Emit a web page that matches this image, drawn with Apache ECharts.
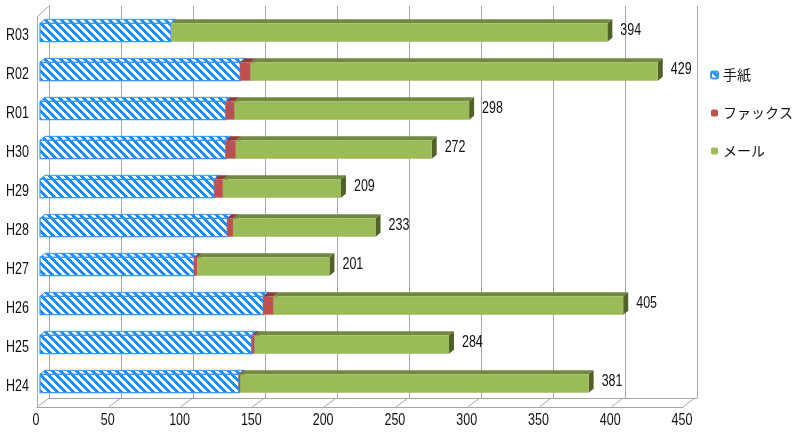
<!DOCTYPE html>
<html><head><meta charset="utf-8">
<script src="https://cdn.jsdelivr.net/npm/echarts@6/dist/echarts.min.js"></script>
<style>html,body{margin:0;padding:0;background:#fff}#c{width:802px;height:436px}</style>
</head><body><div id="c"></div>
<script>
const categories = ['H24','H25','H26','H27','H28','H29','H30','R01','R02','R03'];
const letter = [138,147,155,107,130,121,129,129,139,91];
const fax    = [1,2,7,2,4,6,7,6,7,0];
const mail   = [242,135,243,92,99,82,136,163,283,303];
const totals = [381,284,405,201,233,209,272,298,429,394];
const xTicks = [0,50,100,150,200,250,300,350,400,450];
const seriesNames = ['手紙','ファックス','メール'];

const NUM_FONT = "'Liberation Sans','Arial',sans-serif";
const JP_FONT = "'Noto Sans CJK JP','Noto Sans',sans-serif";
const SQUEEZE = 0.78;
const TXT = '#111';

function makeHatch(size, band){
  const c = document.createElement('canvas');
  c.width = size; c.height = size;
  const ctx = c.getContext('2d');
  const img = ctx.createImageData(size,size);
  for(let y=0;y<size;y++)for(let x=0;x<size;x++){
    const k=((x-y)%size+size)%size;
    const i=(y*size+x)*4;
    if(k<band){img.data[i]=26;img.data[i+1]=140;img.data[i+2]=255;img.data[i+3]=255;}
    else{img.data[i]=255;img.data[i+1]=255;img.data[i+2]=255;img.data[i+3]=255;}
  }
  ctx.putImageData(img,0,0);
  return c;
}
const hatch = {image: makeHatch(8,4), repeat: 'repeat'};

const DX = 5, DY = 4;
const styles = [
  {front: hatch, top: hatch, side: hatch, stroke: '#3399ff'},
  {front: '#C0504D', top: '#8E3B39', side: '#7a302e', stroke: null},
  {front: '#9BBB59', top: '#71893f', side: '#4f6228', stroke: null}
];

function segData(k){
  return categories.map((c,i)=>{
    let start = 0;
    if(k>=1) start += letter[i];
    if(k>=2) start += fax[i];
    const v = [letter,fax,mail][k][i];
    return [start, start+v, i, totals[i]];
  });
}

function makeRender(k){
  const st = styles[k];
  return function(params, api){
    const s = api.value(0), e = api.value(1), ci = api.value(2);
    const p0 = api.coord([s, ci]);
    const p1 = api.coord([e, ci]);
    const h = api.size([0,1])[1]*0.47;
    const x0 = p0[0], x1 = p1[0], y0 = p0[1]-h/2;
    const children = [];
    if (x1 - x0 > 0.01){
      children.push({type:'polygon', shape:{points:[[x0,y0],[x1,y0],[x1+DX,y0-DY],[x0+DX,y0-DY]]},
        style:{fill:st.top, stroke:st.stroke, lineWidth:st.stroke?1:0}});
      children.push({type:'polygon', shape:{points:[[x1,y0],[x1+DX,y0-DY],[x1+DX,y0+h-DY],[x1,y0+h]]},
        style:{fill:st.side, stroke:st.stroke, lineWidth:st.stroke?1:0}});
      children.push({type:'rect', shape:{x:x0,y:y0,width:x1-x0,height:h},
        style:{fill:st.front, stroke:st.stroke, lineWidth:st.stroke?1.2:0}});
    }
    if(k===2){
      children.push({type:'text', x:x1+13, y:p0[1]-2, scaleX:SQUEEZE,
        style:{text:String(api.value(3)), fill:TXT, font:"16px "+NUM_FONT, textAlign:'left', textVerticalAlign:'middle'}});
    }
    return {type:'group', children};
  };
}

function renderFrame(params, api){
  const v = api.value(0);
  const p = api.coord([v, 0]);
  const x = p[0], yb = p[1] + api.size([0,1])[1]/2;
  return {type:'group', children:[
    {type:'line', shape:{x1:x, y1:yb, x2:x+12, y2:yb-9}, style:{stroke:'#a6a6a6', lineWidth:1}},
    {type:'text', x:x-1, y:yb+14, scaleX:SQUEEZE,
      style:{text:String(v), fill:TXT, font:"16px "+NUM_FONT, textAlign:'center', textVerticalAlign:'middle'}}
  ]};
}
function renderCat(params, api){
  const i = api.value(0);
  const p = api.coord([0, i]);
  return {type:'text', x:p[0]-8, y:p[1]-1, scaleX:SQUEEZE,
    style:{text:categories[i], fill:TXT, font:"16px "+NUM_FONT, textAlign:'right', textVerticalAlign:'middle'}};
}

const chart = echarts.init(document.getElementById('c'), null, {renderer:'canvas'});
chart.setOption({
  animation:false,
  backgroundColor:'#fff',
  grid:[
    {left:40, top:13, width:648, height:390},
    {left:37, top:17, width:646, height:390},
    {left:49, top:6, width:648, height:392}
  ],
  xAxis:[
    {gridIndex:0, type:'value', min:0, max:450, interval:50, show:false},
    {gridIndex:1, type:'value', min:0, max:450, interval:50,
      axisLine:{show:true, lineStyle:{color:'#a6a6a6'}}, axisTick:{show:false}, splitLine:{show:false},
      axisLabel:{show:false}},
    {gridIndex:2, type:'value', min:0, max:450, interval:50,
      axisLine:{show:true, lineStyle:{color:'#a6a6a6'}}, axisTick:{show:false}, axisLabel:{show:false},
      splitLine:{show:true, lineStyle:{color:'#a6a6a6', width:1}}}
  ],
  yAxis:[
    {gridIndex:0, type:'category', data:categories, show:false},
    {gridIndex:1, type:'category', data:categories,
      axisLine:{show:true, lineStyle:{color:'#a6a6a6'}}, axisTick:{show:false},
      axisLabel:{show:false}},
    {gridIndex:2, type:'category', data:categories,
      axisLine:{show:true, lineStyle:{color:'#a6a6a6'}}, axisTick:{show:false}, axisLabel:{show:false}}
  ],
  legend:{
    orient:'vertical', left:705, top:63, itemWidth:7, itemHeight:7, itemGap:24,
    data:seriesNames,
    textStyle:{fontFamily:JP_FONT, fontSize:14, color:TXT}
  },
  series:[
    {type:'custom', coordinateSystem:'cartesian2d', xAxisIndex:1, yAxisIndex:1,
      data: xTicks.map(v=>[v]), renderItem: renderFrame, silent:true, z:1},
    {type:'custom', coordinateSystem:'cartesian2d', xAxisIndex:1, yAxisIndex:1,
      data: categories.map((c,i)=>[i]), renderItem: renderCat, silent:true, z:1, encode:{y:0}},
    {type:'custom', coordinateSystem:'cartesian2d', xAxisIndex:1, yAxisIndex:1,
      data:[[0]], silent:true, z:1,
      renderItem:function(params, api){
        const p = api.coord([0, categories.length-1]);
        const yt = p[1] - api.size([0,1])[1]/2;
        return {type:'line', shape:{x1:p[0], y1:yt, x2:p[0]+12, y2:yt-11}, style:{stroke:'#a6a6a6', lineWidth:1}};
      }},
    {name:seriesNames[0], type:'custom', xAxisIndex:0, yAxisIndex:0, data:segData(0), renderItem:makeRender(0),
      itemStyle:{color:hatch, borderColor:'#3399ff', borderWidth:1}, z:3, encode:{x:[0,1], y:2}},
    {name:seriesNames[1], type:'custom', xAxisIndex:0, yAxisIndex:0, data:segData(1), renderItem:makeRender(1),
      itemStyle:{color:'#C0504D'}, z:3, encode:{x:[0,1], y:2}},
    {name:seriesNames[2], type:'custom', xAxisIndex:0, yAxisIndex:0, data:segData(2), renderItem:makeRender(2),
      itemStyle:{color:'#9BBB59'}, z:3, encode:{x:[0,1], y:2}}
  ]
});
</script></body></html>
